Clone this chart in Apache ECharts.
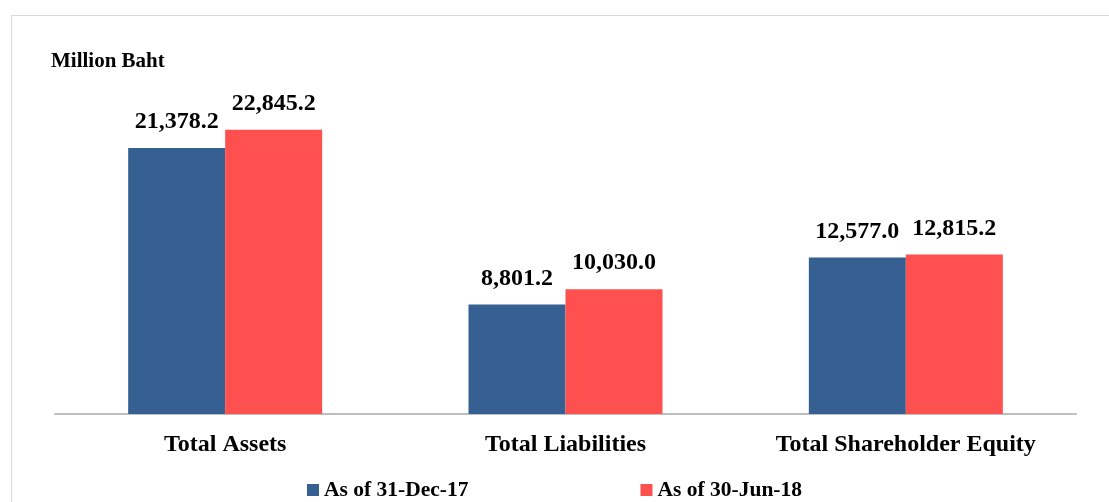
<!DOCTYPE html>
<html>
<head>
<meta charset="utf-8">
<script src="https://cdn.jsdelivr.net/npm/echarts@6/dist/echarts.min.js"></script>
<style>
    html, body { margin: 0; padding: 0; background: #fff; }
    #chartBalance { width: 1109px; height: 502px; }
</style>
</head>
<body>
<div id="chartBalance"></div>
<script>
var categories = ['Total Assets', 'Total Liabilities', 'Total Shareholder Equity'];
var seriesNames = ['As of 31-Dec-17', 'As of 30-Jun-18'];
var valuesDec17 = [21378.2, 8801.2, 12577.0];
var valuesJun18 = [22845.2, 10030.0, 12815.2];

(function () {
    var font = '"Liberation Serif", "Times New Roman", serif';
    var myChart = echarts.init(document.getElementById('chartBalance'));

    function fmt(v) {
        return v.toLocaleString('en-US', { minimumFractionDigits: 1, maximumFractionDigits: 1 });
    }

    function barSeries(name, data, color) {
        return {
            name: name,
            type: 'bar',
            data: data,
            barWidth: 97,
            barGap: '0%',
            itemStyle: {
                color: color,
            },
            label: {
                show: true,
                position: 'top',
                distance: 14,
                color: '#000',
                fontFamily: font,
                fontWeight: 'bold',
                fontSize: 24,
                formatter: function (p) { return fmt(p.value); },
            },
        };
    }

    myChart.setOption({
        animation: false,
        title: {
            text: 'Million Baht',
            left: 46,
            top: 46,
            textStyle: {
                fontFamily: font,
                fontWeight: 'bold',
                fontSize: 21,
                color: '#000',
            },
        },
        // light frame round the chart area (open to the right and bottom)
        graphic: [{
            type: 'rect',
            shape: { x: 11.5, y: 15.5, width: 1120, height: 520 },
            style: { fill: null, stroke: '#d9d9d9', lineWidth: 1 },
            silent: true,
        }],
        grid: {
            top: 103,
            left: 55,
            right: 33,
            bottom: 88,
        },
        legend: {
            top: 474,
            left: 'center',
            itemGap: 172,
            itemWidth: 12,
            itemHeight: 12,
            icon: 'rect',
            data: seriesNames,
            textStyle: {
                fontFamily: font,
                fontWeight: 'bold',
                fontSize: 21.5,
                color: '#000',
            },
        },
        xAxis: {
            type: 'category',
            data: categories,
            axisTick: { show: false },
            axisLine: {
                lineStyle: { color: '#bfbfbf', width: 2 },
            },
            axisLabel: {
                margin: 19,
                color: '#000',
                fontFamily: font,
                fontWeight: 'bold',
                fontSize: 24,
            },
        },
        yAxis: {
            type: 'value',
            min: 0,
            max: 25000,
            show: false,
            splitLine: { show: false },
        },
        series: [
            barSeries(seriesNames[0], valuesDec17, '#376092'),
            barSeries(seriesNames[1], valuesJun18, '#ff5050'),
        ],
    });
})();
</script>
</body>
</html>
